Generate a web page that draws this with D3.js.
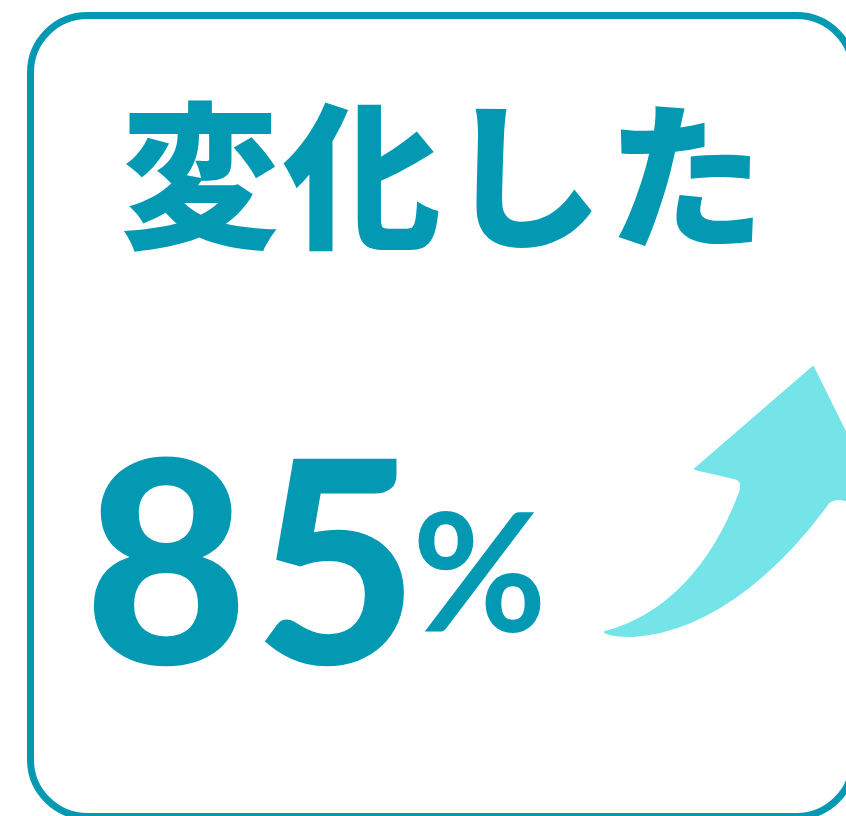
<!DOCTYPE html>
<html>
<head>
<meta charset="utf-8">
<script src="https://cdn.jsdelivr.net/npm/d3@7"></script>
<style>
  body { margin: 0; background: #fff; }
  svg { display: block; }
</style>
</head>
<body>
<svg id="chart"></svg>
<script>
// Values
const labels = ['変化した'];
const values = [85];
const units = ['%'];

const width = 846, height = 816;
const mainColor = '#0399b3';
const arrowColor = '#74e4e8';

const svg = d3.select('#chart')
  .attr('width', width)
  .attr('height', height);

// Rounded frame (runs off the right and bottom edges)
svg.append('rect')
  .attr('x', 30.5)
  .attr('y', 15.5)
  .attr('width', 823)
  .attr('height', 801)
  .attr('rx', 57)
  .attr('ry', 57)
  .attr('fill', '#fff')
  .attr('stroke', mainColor)
  .attr('stroke-width', 7);

// Title
svg.append('text')
  .attr('x', 445)
  .attr('y', 236)
  .attr('text-anchor', 'middle')
  .attr('font-family', '"Noto Sans CJK JP", sans-serif')
  .attr('font-weight', 900)
  .attr('font-size', 158)
  .attr('letter-spacing', 4)
  .attr('fill', mainColor)
  .text(labels[0]);

// Big number + unit
const num = svg.append('text')
  .attr('x', 84)
  .attr('y', 664)
  .attr('font-family', 'Lato, sans-serif')
  .attr('fill', mainColor);
num.append('tspan')
  .attr('font-weight', 900)
  .attr('font-size', 283)
  .attr('letter-spacing', 6)
  .text(values[0]);
num.append('tspan')
  .attr('font-weight', 700)
  .attr('font-size', 164)
  .attr('dx', -12)
  .attr('dy', -32)
  .text(units[0]);

// Rising arrow
const p = d3.path();
p.moveTo(813, 367);
p.lineTo(882, 506);
p.lineTo(840, 499);
p.quadraticCurveTo(830, 498, 826, 506);
p.bezierCurveTo(790, 555, 720, 630, 633, 636);
p.quadraticCurveTo(610, 636, 605, 632);
p.bezierCurveTo(670, 615, 715, 560, 740, 492);
p.quadraticCurveTo(744, 480, 734, 478);
p.lineTo(695, 469);
p.closePath();

svg.append('path')
  .attr('d', p.toString())
  .attr('fill', arrowColor)
  .attr('stroke', arrowColor)
  .attr('stroke-width', 2)
  .attr('stroke-linejoin', 'round');
</script>
</body>
</html>
